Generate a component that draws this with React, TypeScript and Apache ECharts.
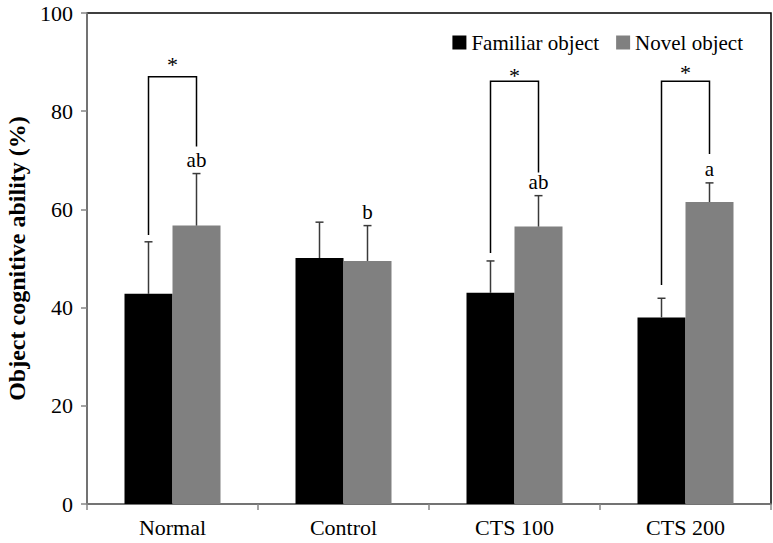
import React, { useEffect, useRef } from "react";
import * as echarts from "echarts";

const categories = ["Normal", "Control", "CTS 100", "CTS 200"];
const familiar = [42.8, 50.1, 43.0, 38.0];
const novel = [56.7, 49.5, 56.5, 61.5];
const familiarErr = [10.6, 7.3, 6.5, 3.9];
const novelErr = [10.6, 7.2, 6.3, 3.9];
const letters = ["ab", "b", "ab", "a"];
const yTicks = [0, 20, 40, 60, 80, 100];

// significance brackets: category index, top, left leg bottom, right leg bottom, star level
const bracketCats = [0, 2, 3];
const bracketTop = [87.0, 86.1, 86.1];
const bracketLeftBottom = [54.8, 51.1, 44.6];
const bracketRightBottom = [72.8, 67.5, 71.3];
const bracketStar = [90.4, 88.0, 88.7];

const FONT = "Liberation Serif";
const BAR_W = 48;

export default function App() {
  const ref = useRef<HTMLDivElement>(null);
  useEffect(() => {
    if (!ref.current) return;
    const chart = echarts.init(ref.current, null, { renderer: "svg" });

    const errRender = (offsetSign: number) => (params: any, api: any) => {
      const idx = api.value(0);
      const v = api.value(1);
      const e = api.value(2);
      const base = api.coord([idx, v]);
      const top = api.coord([idx, v + e]);
      const x = base[0] + offsetSign * BAR_W / 2;
      const style = { stroke: "#3a3a3a", lineWidth: 1.5 };
      return {
        type: "group",
        children: [
          { type: "line", shape: { x1: x, y1: base[1], x2: x, y2: top[1] }, style },
          { type: "line", shape: { x1: x - 4, y1: top[1], x2: x + 4, y2: top[1] }, style },
        ],
      };
    };

    const option: any = {
      animation: false,
      backgroundColor: "#fff",
      textStyle: { fontFamily: FONT },
      grid: {
        left: 87,
        right: 2,
        top: 13,
        bottom: 39,
        outerBoundsMode: "none",
        containLabel: false,
        show: true,
        borderColor: "#000",
        borderWidth: 1.5,
        backgroundColor: "transparent",
      },
      legend: {
        data: ["Familiar object", "Novel object"],
        right: 25,
        top: 27,
        icon: "rect",
        itemWidth: 14,
        itemHeight: 14,
        itemGap: 17,
        textStyle: { fontFamily: FONT, fontSize: 21, color: "#000" },
      },
      xAxis: {
        type: "category",
        data: categories,
        axisLine: { lineStyle: { color: "#868686", width: 1.5 } },
        axisTick: { show: true, length: 6, lineStyle: { color: "#868686", width: 1.5 } },
        axisLabel: { fontFamily: FONT, fontSize: 22, color: "#000", margin: 12 },
        splitLine: { show: false },
      },
      yAxis: {
        type: "value",
        min: yTicks[0],
        max: yTicks[yTicks.length - 1],
        interval: yTicks[1] - yTicks[0],
        name: "Object cognitive ability (%)",
        nameLocation: "middle",
        nameGap: 58,
        nameTextStyle: { fontFamily: FONT, fontSize: 24, fontWeight: "bold", color: "#000" },
        axisLine: { show: true, lineStyle: { color: "#868686", width: 1.5 } },
        axisTick: { show: true, length: 6, lineStyle: { color: "#868686", width: 1.5 } },
        axisLabel: { fontFamily: FONT, fontSize: 22, color: "#000", margin: 14 },
        splitLine: { show: false },
      },
      series: [
        {
          name: "Familiar object",
          type: "bar",
          data: familiar,
          barWidth: BAR_W,
          barGap: "0%",
          itemStyle: { color: "#000000" },
        },
        {
          name: "Novel object",
          type: "bar",
          data: novel,
          barWidth: BAR_W,
          barGap: "0%",
          itemStyle: { color: "#808080" },
        },
        {
          type: "custom",
          renderItem: errRender(-1),
          data: familiar.map((v, i) => [i, v, familiarErr[i]]),
          encode: { x: 0, y: 1 },
          z: 5,
        },
        {
          type: "custom",
          renderItem: (params: any, api: any) => {
            const g: any = errRender(1)(params, api);
            const idx = api.value(0);
            const top = api.coord([idx, api.value(1) + api.value(2)]);
            g.children.push({
              type: "text",
              x: top[0] + BAR_W / 2,
              y: top[1] - 14,
              style: {
                text: letters[idx],
                fontFamily: FONT,
                fontSize: 21,
                fill: "#000",
                align: "center",
                verticalAlign: "middle",
              },
            });
            return g;
          },
          data: novel.map((v, i) => [i, v, novelErr[i]]),
          encode: { x: 0, y: 1 },
          z: 5,
        },
        {
          type: "custom",
          renderItem: (params: any, api: any) => {
            const idx = api.value(0);
            const t = api.coord([idx, api.value(1)]);
            const lb = api.coord([idx, api.value(2)]);
            const rb = api.coord([idx, api.value(3)]);
            const s = api.coord([idx, api.value(4)]);
            const xl = t[0] - BAR_W / 2;
            const xr = t[0] + BAR_W / 2;
            return {
              type: "group",
              children: [
                {
                  type: "polyline",
                  shape: { points: [[xl, lb[1]], [xl, t[1]], [xr, t[1]], [xr, rb[1]]] },
                  style: { stroke: "#000", lineWidth: 1.5, fill: null },
                },
                {
                  type: "text",
                  x: t[0],
                  y: s[1] + 4,
                  style: {
                    text: "*",
                    fontFamily: FONT,
                    fontSize: 22,
                    fill: "#000",
                    align: "center",
                    verticalAlign: "middle",
                  },
                },
              ],
            };
          },
          data: bracketCats.map((c, i) => [c, bracketTop[i], bracketLeftBottom[i], bracketRightBottom[i], bracketStar[i]]),
          encode: { x: 0, y: 1 },
          z: 5,
        },
      ],
    };
    chart.setOption(option);
    return () => chart.dispose();
  }, []);
  return (
    <div
      ref={ref}
      style={{ position: "fixed", left: 0, top: 0, width: 773, height: 543, background: "#fff" }}
    />
  );
}
